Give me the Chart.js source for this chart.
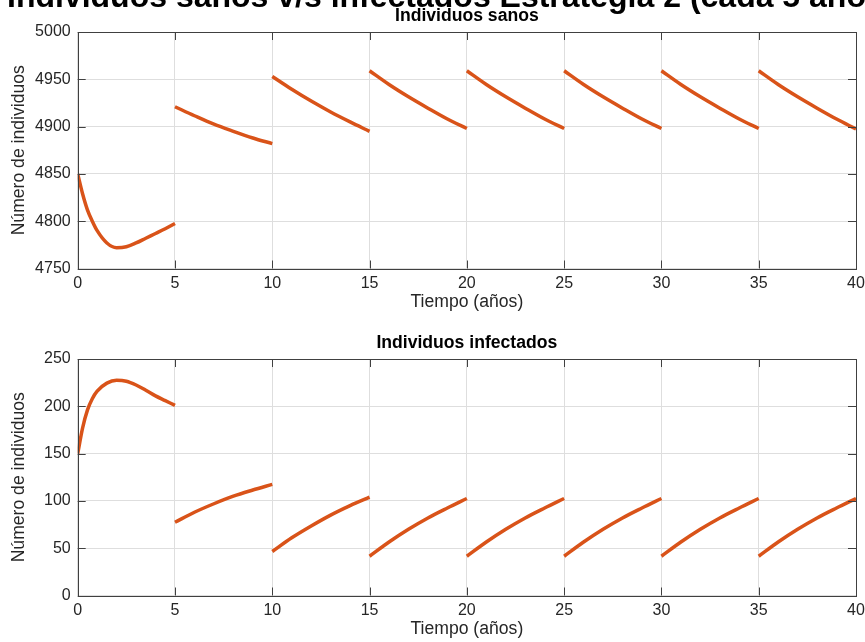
<!DOCTYPE html>
<html>
<head>
<meta charset="utf-8">
<script src="https://cdn.jsdelivr.net/npm/chart.js@4"></script>
<style>
    html, body { margin: 0; padding: 0; background: #fff; overflow: hidden; }
    body { width: 865px; height: 642px; position: relative; }
    .panel { position: absolute; left: 0; width: 865px; height: 316px; }
    #titulo {
        position: absolute; left: 7px; top: -20px;
        font: bold 32px "Liberation Sans", Arial, sans-serif; line-height: 32px;
        color: #000; white-space: nowrap;
    }
</style>
</head>
<body>
<div class="panel" style="top:0"><canvas id="grafica-sanos" width="865" height="316"></canvas></div>
<div class="panel" style="top:327px"><canvas id="grafica-infectados" width="865" height="316"></canvas></div>
<div id="titulo">Individuos sanos v/s infectados Estrategia 2 (cada 5 años)</div>
<script>
// Primer tramo (0 a 5 años), más puntos porque la curva cambia rápido
const tiempoPrimerTramo = [0, 0.25, 0.5, 0.75, 1, 1.5, 2, 2.5, 3, 3.5, 4, 4.5, 5];
const sanosPrimerTramo = [4850, 4829, 4812, 4800, 4790, 4777, 4772, 4773, 4777, 4782, 4787, 4792, 4797.5];
const infectadosPrimerTramo = [150, 177, 196, 208, 216, 224.5, 227.5, 226.5, 222.5, 217, 211, 206, 201];

// Resto de tramos, uno cada 5 años (tiempo medido desde el inicio del tramo)
const inicioTramos = [5, 10, 15, 20, 25, 30, 35];
const tiempoTramo = [0, 1, 2, 3, 4, 5];
const sanosTramos = [
    [4921, 4911.5, 4902.5, 4895, 4888, 4882],
    [4953, 4939.5, 4927, 4915.5, 4905, 4895],
    [4959, 4944.5, 4931.5, 4919.5, 4908, 4898],
    [4959, 4944.5, 4931.5, 4919.5, 4908, 4898],
    [4959, 4944.5, 4931.5, 4919.5, 4908, 4898],
    [4959, 4944.5, 4931.5, 4919.5, 4908, 4898],
    [4959, 4944.5, 4931.5, 4919.5, 4908, 4897.5]
];
const infectadosTramos = [
    [77.5, 88, 97, 105, 111.5, 117.5],
    [46.5, 61, 73.5, 85, 95, 104],
    [41.5, 56.5, 70, 82, 92.5, 102.5],
    [41.5, 56.5, 70, 82, 92.5, 102.5],
    [41.5, 56.5, 70, 82, 92.5, 102.5],
    [41.5, 56.5, 70, 82, 92.5, 102.5],
    [41.5, 56.5, 70, 82, 92.5, 102.5]
];

const ticksX = { min: 0, max: 40, paso: 5 };
const ticksSanos = { min: 4750, max: 5000, paso: 50 };
const ticksInfectados = { min: 0, max: 250, paso: 50 };

const FUENTE = '"Liberation Sans", Arial, Helvetica, sans-serif';
const COLOR_TEXTO = '#262626';
const COLOR_EJE = '#404040';
const COLOR_GRILLA = '#dedede';
const COLOR_LINEA = '#D95319';

function armarSerie(primerTramo, tramos) {
    const puntos = tiempoPrimerTramo.map((t, i) => ({ x: t, y: primerTramo[i] }));
    tramos.forEach((valores, k) => {
        puntos.push({ x: inicioTramos[k], y: null }); // corte entre tramos
        tiempoTramo.forEach((t, i) => puntos.push({ x: inicioTramos[k] + t, y: valores[i] }));
    });
    return puntos;
}

// Caja completa con marcas hacia adentro, estilo MATLAB
const marcoCaja = {
    id: 'marcoCaja',
    afterDraw(chart) {
        const { ctx, chartArea: a, scales: { x, y } } = chart;
        const largo = 8;
        ctx.save();
        ctx.strokeStyle = COLOR_EJE;
        ctx.lineWidth = 1;
        ctx.beginPath();
        x.ticks.forEach(t => {
            const px = Math.round(x.getPixelForValue(t.value)) + 0.5;
            ctx.moveTo(px, a.bottom); ctx.lineTo(px, a.bottom - largo);
            ctx.moveTo(px, a.top); ctx.lineTo(px, a.top + largo);
        });
        y.ticks.forEach(t => {
            const py = Math.round(y.getPixelForValue(t.value)) + 0.5;
            ctx.moveTo(a.left, py); ctx.lineTo(a.left + largo, py);
            ctx.moveTo(a.right, py); ctx.lineTo(a.right - largo, py);
        });
        ctx.stroke();
        ctx.strokeRect(Math.round(a.left) + 0.5, Math.round(a.top) + 0.5,
            Math.round(a.right) - Math.round(a.left), Math.round(a.bottom) - Math.round(a.top));
        ctx.restore();
    }
};

function crearGrafica(idCanvas, titulo, datos, rangoY) {
    const ctx = document.getElementById(idCanvas).getContext('2d');
    return new Chart(ctx, {
        type: 'line',
        data: {
            datasets: [{
                data: datos,
                borderColor: COLOR_LINEA,
                borderWidth: 3.5,
                pointRadius: 0,
                spanGaps: false,
                cubicInterpolationMode: 'monotone'
            }]
        },
        options: {
            responsive: false,
            animation: false,
            layout: { padding: { left: 0, right: 9, top: 0, bottom: 0 } },
            plugins: {
                legend: { display: false },
                tooltip: { enabled: false },
                title: {
                    display: true,
                    text: titulo,
                    color: '#000',
                    fullSize: false,
                    font: { family: FUENTE, size: 17.6, weight: 'bold' },
                    padding: { top: 5.2, bottom: 5.7 }
                }
            },
            scales: {
                x: {
                    type: 'linear',
                    min: ticksX.min,
                    max: ticksX.max,
                    ticks: {
                        stepSize: ticksX.paso,
                        color: COLOR_TEXTO,
                        font: { family: FUENTE, size: 16 },
                        padding: 5,
                        maxRotation: 0,
                        callback: v => String(v)
                    },
                    grid: { color: COLOR_GRILLA, drawTicks: false },
                    border: { display: false },
                    title: {
                        display: true,
                        text: 'Tiempo (años)',
                        color: COLOR_TEXTO,
                        font: { family: FUENTE, size: 17.6 },
                        padding: { top: 0, bottom: 3 }
                    },
                    afterFit: s => {
                        s.height = 47.5;
                        s.paddingLeft = 0;
                        s.paddingRight = 9; // el "40" cabe justo en el borde
                    }
                },
                y: {
                    min: rangoY.min,
                    max: rangoY.max,
                    ticks: {
                        stepSize: rangoY.paso,
                        color: COLOR_TEXTO,
                        font: { family: FUENTE, size: 16 },
                        padding: 7,
                        callback: v => String(v)
                    },
                    grid: { color: COLOR_GRILLA, drawTicks: false },
                    border: { display: false },
                    title: {
                        display: true,
                        text: 'Número de individuos',
                        color: COLOR_TEXTO,
                        font: { family: FUENTE, size: 17.6 },
                        padding: { top: 8.5, bottom: 0 }
                    },
                    afterFit: s => { s.width = 77.7; }
                }
            }
        },
        plugins: [marcoCaja]
    });
}

crearGrafica('grafica-sanos', 'Individuos sanos', armarSerie(sanosPrimerTramo, sanosTramos), ticksSanos);
crearGrafica('grafica-infectados', 'Individuos infectados', armarSerie(infectadosPrimerTramo, infectadosTramos), ticksInfectados);
</script>
</body>
</html>
